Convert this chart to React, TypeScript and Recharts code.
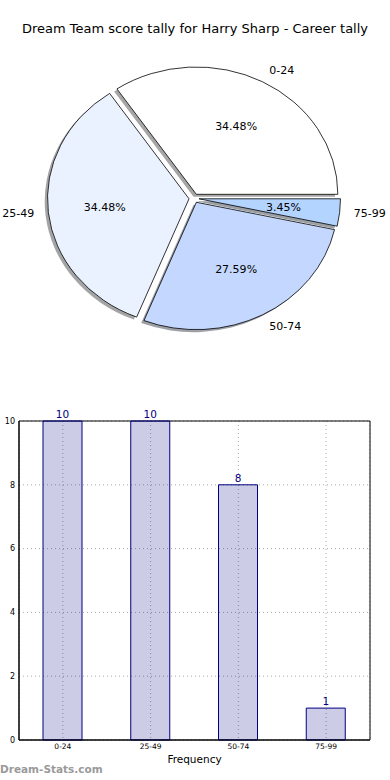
import React from "react"
import {
  Bar,
  BarChart,
  CartesianGrid,
  Label,
  LabelList,
  Pie,
  PieChart,
  ReferenceArea,
  XAxis,
  YAxis,
} from "recharts"

const categories = ["0-24", "25-49", "50-74", "75-99"]
const tallies = [10, 10, 8, 1]
const sliceColors = ["#ffffff", "#ebf2ff", "#c4d8ff", "#b3d4ff"]
const yTicks = [0, 2, 4, 6, 8, 10]

const data = categories.map((name, i) => ({ name, value: tallies[i], color: sliceColors[i] }))

const FONT = "'DejaVu Sans', sans-serif"
const RAD = Math.PI / 180
const RY = 0.9 // matplotlib axes weren't square, pie is squashed
const EXPLODE = 5

function wedgePath(cx: number, cy: number, rx: number, ry: number, a0: number, a1: number) {
  const x0 = cx + rx * Math.cos(a0 * RAD)
  const y0 = cy - ry * Math.sin(a0 * RAD)
  const x1 = cx + rx * Math.cos(a1 * RAD)
  const y1 = cy - ry * Math.sin(a1 * RAD)
  const large = Math.abs(a1 - a0) > 180 ? 1 : 0
  return `M${cx},${cy} L${x0},${y0} A${rx},${ry} 0 ${large} 0 ${x1},${y1} Z`
}

function shade(hex: string) {
  const n = parseInt(hex.slice(1), 16)
  const r = Math.round(((n >> 16) & 255) * 0.3)
  const g = Math.round(((n >> 8) & 255) * 0.3)
  const b = Math.round((n & 255) * 0.3)
  return `rgb(${r},${g},${b})`
}

const Wedge = (props: any) => {
  const { cx, cy, outerRadius, startAngle, endAngle, midAngle, payload } = props
  const ox = cx + EXPLODE * Math.cos(midAngle * RAD)
  const oy = cy - EXPLODE * RY * Math.sin(midAngle * RAD)
  const d = wedgePath(ox, oy, outerRadius, outerRadius * RY, startAngle, endAngle)
  const fill = payload?.color ?? props.fill
  return (
    <g>
      <path d={d} transform="translate(-2.8,2.5)" fill={shade(fill)} fillOpacity={0.5} stroke="none" />
      <path d={d} fill={fill} stroke="#000" strokeWidth={0.8} />
    </g>
  )
}

const PieLabel = (props: any) => {
  const { cx, cy, outerRadius, midAngle, percent, name } = props
  const c = Math.cos(midAngle * RAD)
  const s = Math.sin(midAngle * RAD)
  const ox = cx + EXPLODE * c
  const oy = cy - EXPLODE * RY * s
  const px = ox + 0.6 * outerRadius * c
  const py = oy - 0.6 * outerRadius * RY * s
  const lx = ox + 1.1 * outerRadius * c
  const ly = oy - 1.1 * outerRadius * RY * s
  return (
    <g fontFamily={FONT} fontSize={11} fill="#000">
      <text x={px} y={py} textAnchor="middle" dominantBaseline="central">
        {(percent * 100).toFixed(2)}%
      </text>
      <text x={lx} y={ly} textAnchor={c >= 0 ? "start" : "end"} dominantBaseline="central">
        {name}
      </text>
    </g>
  )
}

export default function App() {
  return (
    <div style={{ position: "absolute", left: 0, top: 0, width: 390, height: 780, background: "#fff", fontFamily: FONT }}>
      <div style={{ position: "absolute", top: 21, left: 0, width: 390, textAlign: "center", fontSize: 13, color: "#000" }}>
        Dream Team score tally for Harry Sharp - Career tally
      </div>

      <div style={{ position: "absolute", top: 0, left: 0 }}>
        <PieChart width={390} height={370} margin={{ top: 0, right: 0, bottom: 0, left: 0 }}>
          <Pie
            data={data}
            dataKey="value"
            nameKey="name"
            cx={194}
            cy={198.3}
            outerRadius={141.5}
            startAngle={0}
            endAngle={360}
            shape={Wedge}
            label={PieLabel}
            labelLine={false}
            isAnimationActive={false}
          />
        </PieChart>
      </div>

      <div style={{ position: "absolute", top: 400, left: 0 }}>
        <BarChart width={390} height={380} data={data} margin={{ top: 21, right: 20, bottom: 0, left: 0 }}>
          <CartesianGrid stroke="#aaa" strokeDasharray="1 3" />
          <XAxis
            dataKey="name"
            height={40}
            tickLine={false}
            tickSize={0}
            axisLine={{ stroke: "#000" }}
            tick={{ fontSize: 7.5, fill: "#000", fontFamily: FONT }}
            tickMargin={4}
          >
            <Label value="Frequency" position="insideBottom" offset={17} style={{ fontSize: 10.5, fill: "#000", fontFamily: FONT }} />
          </XAxis>
          <YAxis
            domain={[0, 10]}
            ticks={yTicks}
            width={19}
            tickLine={false}
            tickSize={0}
            axisLine={{ stroke: "#000" }}
            tick={{ fontSize: 8, fill: "#000", fontFamily: FONT }}
            tickMargin={4}
          >
            <Label
              value="Dream Team Tally"
              angle={-90}
              position="insideLeft"
              offset={-12}
              style={{ fontSize: 10, fill: "#000", fontFamily: FONT, textAnchor: "middle" }}
            />
          </YAxis>
          <Bar
            dataKey="value"
            barSize={39}
            fill="#000080"
            fillOpacity={0.2}
            stroke="#000080"
            strokeWidth={1}
            isAnimationActive={false}
          >
            <LabelList dataKey="value" position="top" offset={3} style={{ fontSize: 10.5, fill: "#000080", fontFamily: FONT }} />
          </Bar>
          <ReferenceArea y1={0} y2={10} fill="none" stroke="#000" strokeWidth={1} ifOverflow="visible" />
        </BarChart>
      </div>

      <div style={{ position: "absolute", left: 0, top: 763, fontSize: 10.5, fontWeight: "bold", color: "#9a9a9a" }}>
        Dream-Stats.com
      </div>
    </div>
  )
}
